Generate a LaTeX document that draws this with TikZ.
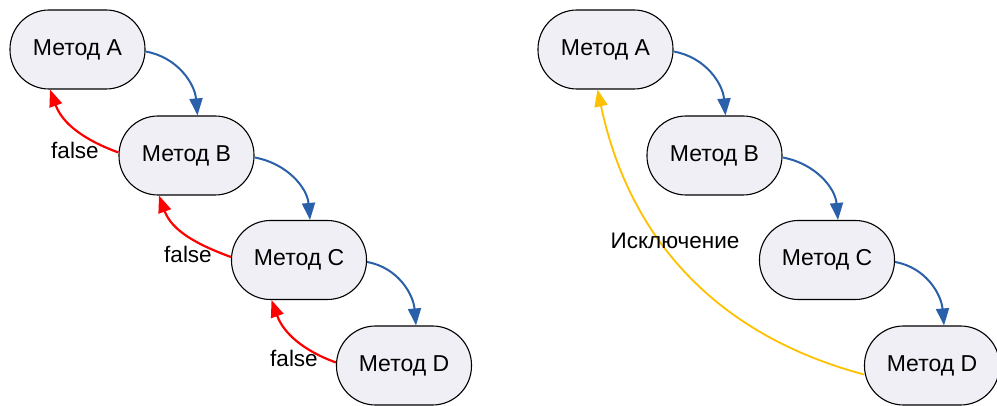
\documentclass[tikz,border=0pt]{standalone}
\usepackage{fontspec}
\setmainfont{Liberation Sans}
\usetikzlibrary{arrows.meta,calc}
\definecolor{nodefill}{RGB}{240,239,245}
\definecolor{flowblue}{RGB}{42,96,170}
\definecolor{exyellow}{RGB}{255,192,0}
\tikzset{
  method/.style={draw=black, line width=1.1pt, fill=nodefill, rounded corners=39pt,
    minimum width=135pt, minimum height=79pt, inner sep=0pt, font=\fontsize{23}{26}\selectfont},
  flow/.style={draw=flowblue, line width=2pt, -{Triangle[length=17pt,width=13pt]}},
  fail/.style={draw=red, line width=2.2pt, -{Triangle[length=17pt,width=13pt]}},
  exc/.style={draw=exyellow, line width=1.8pt, -{Triangle[length=17pt,width=13pt]}},
  lbl/.style={font=\fontsize{22.5}{26}\selectfont, inner sep=0pt}
}
\begin{document}
\begin{tikzpicture}[x=1pt,y=1pt]
\useasboundingbox (0,0) rectangle (997,406);
% left
\node[method] (lA) at (77.5,356.5) {Метод A};
\node[method] (lB) at (186.5,250.5) {Метод B};
\node[method] (lC) at (299,146) {Метод C};
\node[method] (lD) at (404,40.5) {Метод D};
\draw[flow] ($(lA.east)+(0,-2)$) to[out=-10,in=95] ($(lB.north)+(11,0)$);
\draw[flow] ($(lB.east)+(0,-2)$) to[out=-10,in=95] ($(lC.north)+(11,0)$);
\draw[flow] ($(lC.east)+(0,-2)$) to[out=-10,in=95] ($(lD.north)+(12,0)$);
\draw[fail] ($(lB.west)+(0,3)$) to[out=160,in=-70] ($(lA.south)+(-27.5,0)$);
\draw[fail] ($(lC.west)+(0,3)$) to[out=160,in=-70] ($(lB.south)+(-27.5,0)$);
\draw[fail] ($(lD.west)+(0,3)$) to[out=160,in=-70] ($(lC.south)+(-27.5,0)$);
\node[lbl] (f1) at (75,256) {false};
\node[lbl] (f2) at (188,152) {false};
\node[lbl] (f3) at (294,48) {false};
% right
\node[method] (rA) at (605.5,356.5) {Метод A};
\node[method] (rB) at (714.5,250.5) {Метод B};
\node[method] (rC) at (827,146) {Метод C};
\node[method] (rD) at (932,40.5) {Метод D};
\draw[flow] ($(rA.east)+(0,-2)$) to[out=-10,in=95] ($(rB.north)+(11,0)$);
\draw[flow] ($(rB.east)+(0,-2)$) to[out=-10,in=95] ($(rC.north)+(11,0)$);
\draw[flow] ($(rC.east)+(0,-2)$) to[out=-10,in=95] ($(rD.north)+(12,0)$);
\draw[exc] ($(rD.west)+(0,-9)$) to[out=165,in=-78] ($(rA.south)+(-8,0)$);
\node[lbl] (ex) at (675,165) {Исключение};
\end{tikzpicture}
\end{document}
